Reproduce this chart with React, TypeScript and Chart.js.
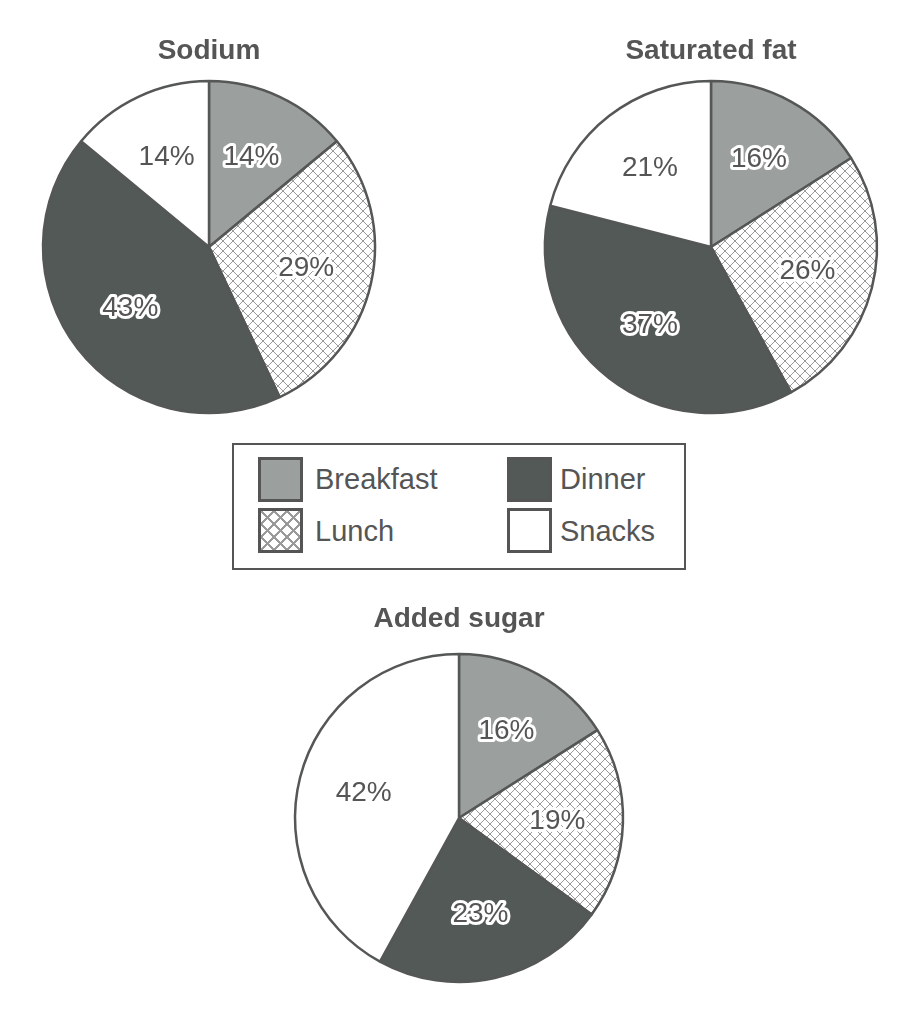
import React, { useEffect, useRef } from "react";
import { Chart, registerables } from "chart.js";

Chart.register(...registerables);

const categories = ["Breakfast", "Lunch", "Dinner", "Snacks"];
const sodiumValues = [14, 29, 43, 14];
const saturatedFatValues = [16, 26, 37, 21];
const addedSugarValues = [16, 19, 23, 42];
const chartTitles = ["Sodium", "Saturated fat", "Added sugar"];

const BREAKFAST = "#9b9f9d";
const DINNER = "#535957";
const SNACKS = "#ffffff";
const EDGE = "#555757";
const TEXT = "#555555";
const FONT = '"Liberation Sans", Arial, Helvetica, sans-serif';

function makeHatch(): CanvasPattern | string {
  const s = 10;
  const c = document.createElement("canvas");
  c.width = s;
  c.height = s;
  const g = c.getContext("2d");
  if (!g) return "#fff";
  g.fillStyle = "#ffffff";
  g.fillRect(0, 0, s, s);
  g.strokeStyle = "#9a9a9a";
  g.lineWidth = 1;
  g.beginPath();
  for (const k of [-s, 0, s]) {
    g.moveTo(k - 1, -1);
    g.lineTo(k + s + 1, s + 1);
    g.moveTo(k - 1, s + 1);
    g.lineTo(k + s + 1, -1);
  }
  g.stroke();
  return g.createPattern(c, "repeat") || "#fff";
}

const pctLabels = {
  id: "pctLabels",
  afterDatasetsDraw(chart: any) {
    const ctx = chart.ctx;
    const meta = chart.getDatasetMeta(0);
    const data = chart.data.datasets[0].data;
    ctx.save();
    ctx.font = `28px ${FONT}`;
    ctx.textAlign = "center";
    ctx.textBaseline = "middle";
    ctx.lineJoin = "round";
    meta.data.forEach((arc: any, i: number) => {
      const { x, y, startAngle, endAngle, outerRadius } = arc.getProps(
        ["x", "y", "startAngle", "endAngle", "outerRadius"],
        true
      );
      const a = (startAngle + endAngle) / 2;
      const r = outerRadius * 0.6;
      const px = x + Math.cos(a) * r;
      const py = y + Math.sin(a) * r;
      const t = `${data[i]}%`;
      ctx.lineWidth = 6;
      ctx.strokeStyle = "#ffffff";
      ctx.strokeText(t, px, py);
      ctx.fillStyle = TEXT;
      ctx.fillText(t, px, py);
    });
    ctx.restore();
  },
};

type PieProps = {
  title: string;
  values: number[];
  cx: number;
  cy: number;
  R: number;
  titleMid: number;
};

function Pie({ title, values, cx, cy, R, titleMid }: PieProps) {
  const ref = useRef<HTMLCanvasElement | null>(null);
  const halfW = R + 20;
  const top = titleMid - 30;
  const titleFont = 28;
  const lineH = titleFont * 1.2;
  const padTop = titleMid - top - lineH / 2;
  const areaTop = cy - R - 6;
  const padBottom = areaTop - (top + padTop + lineH);
  const bottom = cy + R + 6;
  const width = halfW * 2;
  const height = bottom - top;

  useEffect(() => {
    if (!ref.current) return;
    const hatch = makeHatch();
    const chart = new Chart(ref.current, {
      type: "pie",
      data: {
        labels: categories,
        datasets: [
          {
            data: values,
            backgroundColor: [BREAKFAST, hatch as any, DINNER, SNACKS],
            borderColor: EDGE,
            borderWidth: 2.5,
            radius: R,
          } as any,
        ],
      },
      options: {
        responsive: false,
        animation: false,
        layout: { padding: 0 },
        plugins: {
          legend: { display: false },
          tooltip: { enabled: false },
          title: {
            display: true,
            text: title,
            color: TEXT,
            font: { family: FONT, size: titleFont, weight: "bold", lineHeight: 1.2 },
            padding: { top: padTop, bottom: padBottom },
          },
        },
      } as any,
      plugins: [pctLabels],
    });
    return () => chart.destroy();
  }, []);

  return (
    <canvas
      ref={ref}
      width={width}
      height={height}
      style={{ position: "absolute", left: cx - halfW, top, width, height }}
    />
  );
}

const swatchBase: React.CSSProperties = {
  position: "absolute",
  width: 45,
  height: 45,
  boxSizing: "border-box",
  border: "3px solid #555",
};

function LegendText({ text, left, mid }: { text: string; left: number; mid: number }) {
  return (
    <div
      style={{
        position: "absolute",
        left,
        top: mid - 17,
        height: 34,
        lineHeight: "34px",
        fontFamily: FONT,
        fontSize: 29,
        color: TEXT,
        whiteSpace: "nowrap",
      }}
    >
      {text}
    </div>
  );
}

function Legend() {
  return (
    <div
      style={{
        position: "absolute",
        left: 232,
        top: 443,
        width: 454,
        height: 127,
        boxSizing: "border-box",
        border: "2px solid #555",
        background: "#fff",
      }}
    >
      <div style={{ ...swatchBase, left: 24, top: 12, background: BREAKFAST }} />
      <LegendText text={categories[0]} left={81} mid={34} />
      <div
        style={{
          ...swatchBase,
          left: 24,
          top: 63,
          backgroundImage:
            "linear-gradient(45deg, transparent 46%, #9a9a9a 46%, #9a9a9a 54%, transparent 54%), linear-gradient(-45deg, transparent 46%, #9a9a9a 46%, #9a9a9a 54%, transparent 54%)",
          backgroundSize: "13px 13px",
          backgroundColor: "#fff",
        }}
      />
      <LegendText text={categories[1]} left={81} mid={86} />
      <div style={{ ...swatchBase, left: 273, top: 12, background: DINNER }} />
      <LegendText text={categories[2]} left={326} mid={34} />
      <div style={{ ...swatchBase, left: 273, top: 63, background: SNACKS }} />
      <LegendText text={categories[3]} left={326} mid={86} />
    </div>
  );
}

export default function App() {
  return (
    <div style={{ position: "absolute", left: 0, top: 0, width: 899, height: 1024, background: "#fff" }}>
      <Pie title={chartTitles[0]} values={sodiumValues} cx={209} cy={247} R={166} titleMid={51} />
      <Pie title={chartTitles[1]} values={saturatedFatValues} cx={711} cy={247} R={166} titleMid={51} />
      <Legend />
      <Pie title={chartTitles[2]} values={addedSugarValues} cx={459} cy={818} R={164} titleMid={619} />
    </div>
  );
}
